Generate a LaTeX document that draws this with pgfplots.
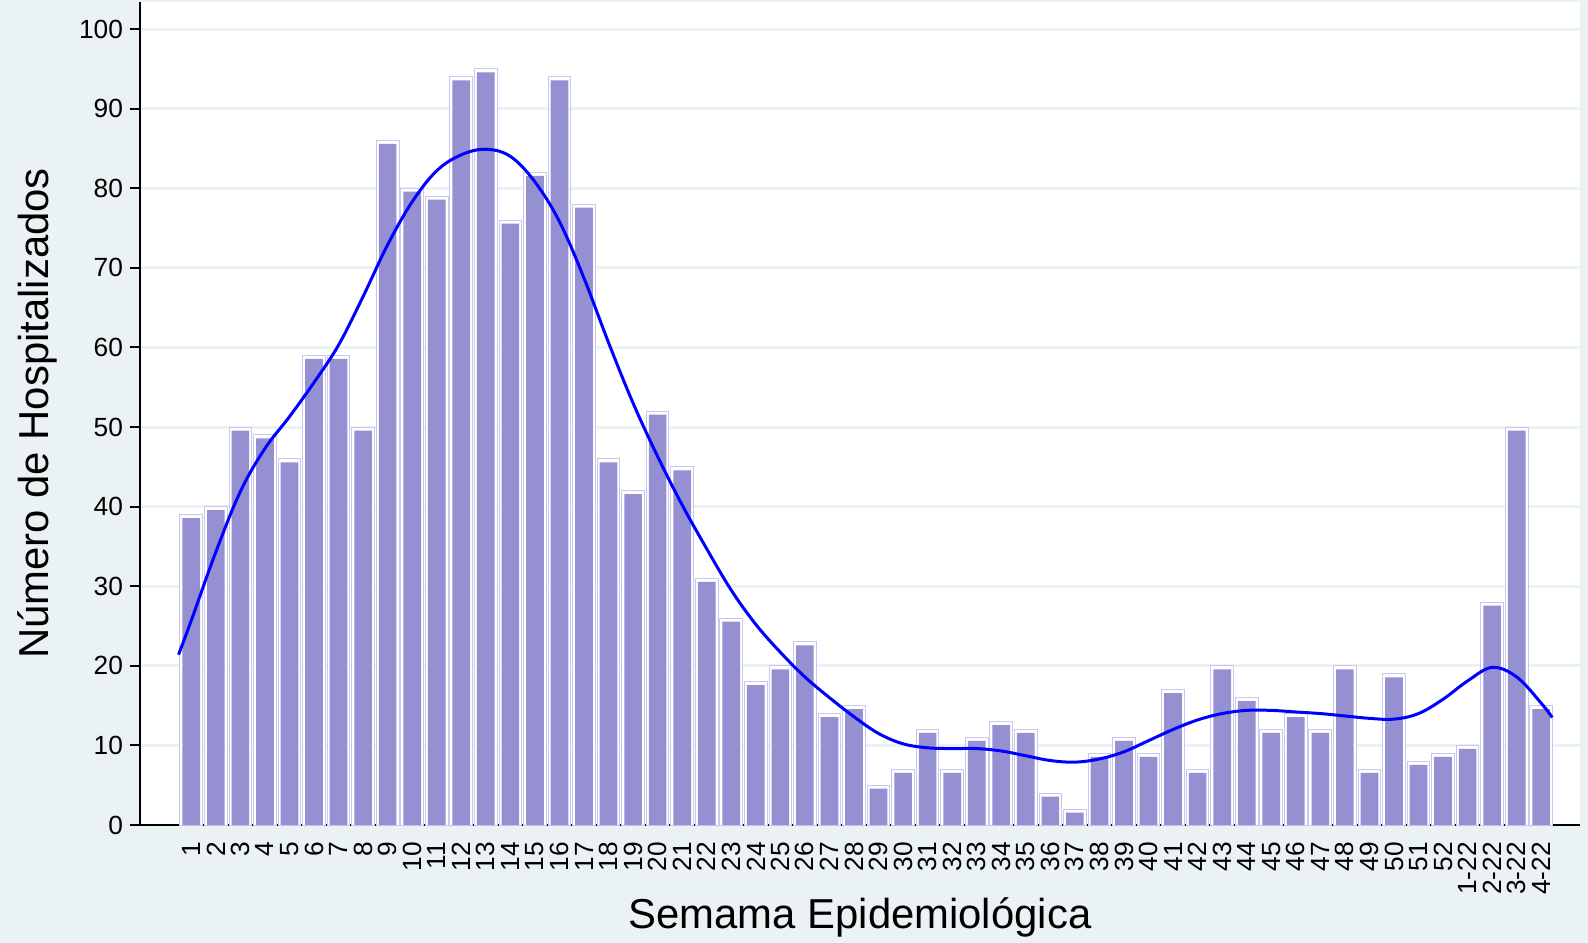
\documentclass[border=0pt]{standalone}
\usepackage{pgfplots}
\usepackage{pgfplotstable}
\pgfplotsset{compat=1.18}
\usepackage{fontspec}
\setmainfont{Liberation Sans}
\definecolor{bgc}{RGB}{234,242,243}
\definecolor{gridc}{RGB}{234,242,243}
\definecolor{barc}{RGB}{149,144,210}
\definecolor{barline}{RGB}{203,198,240}

\pgfplotstableread{
x v
1 39
2 40
3 50
4 49
5 46
6 59
7 59
8 50
9 86
10 80
11 79
12 94
13 95
14 76
15 82
16 94
17 78
18 46
19 42
20 52
21 45
22 31
23 26
24 18
25 20
26 23
27 14
28 15
29 5
30 7
31 12
32 7
33 11
34 13
35 12
36 4
37 2
38 9
39 11
40 9
41 17
42 7
43 20
44 16
45 12
46 14
47 12
48 20
49 7
50 19
51 8
52 9
53 10
54 28
55 50
56 15
}\bars

\pgfplotstableread{
x s
0.48 21.4
1 25.7
2 34.3
3 41.9
4 47.3
5 51.3
6 55.6
7 60.3
8 66.4
9 72.9
10 78.3
11 82.2
12 84.2
13 84.9
14 84.0
15 80.8
16 75.8
17 68.7
18 60.6
19 53.0
20 46.3
21 40.2
22 34.7
23 29.5
24 25.2
25 21.7
26 18.6
27 16.0
28 13.6
29 11.5
30 10.2
31 9.7
32 9.6
33 9.6
34 9.3
35 8.7
36 8.1
37 7.9
38 8.3
39 9.2
40 10.6
41 12.0
42 13.2
43 14.0
44 14.4
45 14.4
46 14.2
47 14.0
48 13.7
49 13.4
50 13.3
51 14.0
52 15.8
53 18.1
54 19.8
55 18.6
56 15.3
56.45 13.5
}\smoothline

\begin{document}
\begin{tikzpicture}
\path[fill=bgc, use as bounding box] (-70bp,-59bp) rectangle (724bp,412.5bp);
\begin{axis}[
  at={(0,0)}, anchor=south west,
  scale only axis,
  width=720bp, height=411.5bp,
  xmin=-1.09, xmax=57.58,
  ymin=0, ymax=103.4,
  axis lines=left,
  axis line style={-, line width=1bp, black},
  axis background/.style={fill=white},
  ymajorgrids,
  grid style={line width=1.5bp, color=gridc},
  ytick={0,10,...,100},
  xtick={1,...,56},
  xticklabels={1,2,3,4,5,6,7,8,9,10,11,12,13,14,15,16,17,18,19,20,21,22,23,24,25,26,27,28,29,30,31,32,33,34,35,36,37,38,39,40,41,42,43,44,45,46,47,48,49,50,51,52,1-22,2-22,3-22,4-22},
  tick align=outside,
  major tick length=5bp,
  ytick style={line width=1bp, black},
  xtick style={draw=none},
  /pgf/number format/assume math mode=true,
  tick label style={font=\fontsize{13.2}{14}\selectfont, black},
  xticklabel style={rotate=90, anchor=east},
  ylabel={Número de Hospitalizados},
  xlabel={Semama Epidemiológica},
  every axis y label/.style={at={(axis description cs:-0.0712,0.5)}, rotate=90, anchor=center, font=\fontsize{21}{24}\selectfont},
  every axis x label/.style={at={(axis description cs:0.5,-0.1118)}, anchor=center, font=\fontsize{21}{24}\selectfont},
]
\addplot[ybar, bar shift=0pt, bar width=0.925, fill=white, draw=barline, line width=0.5bp] table[x=x, y=v] {\bars};
\addplot[ybar, bar shift=0pt, bar width=0.72, fill=barc, draw=none] table[x=x, y expr=\thisrow{v}-0.44] {\bars};
\addplot[blue, line width=1.5bp, smooth, tension=0.6, no markers] table[x=x, y=s] {\smoothline};
\end{axis}
\end{tikzpicture}
\end{document}
